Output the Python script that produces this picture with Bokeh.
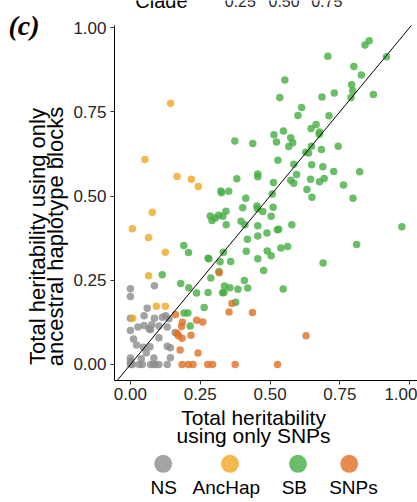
import math
from bokeh.plotting import figure
from bokeh.models import Range1d, FixedTicker, NumeralTickFormatter, ColumnDataSource
from bokeh.layouts import column, row
from bokeh.core.properties import value
from bokeh.embed import file_html
from bokeh.resources import INLINE

# ---------------- data ----------------
categories = ["NS", "AncHap", "SB", "SNPs"]
colors = ["#8c8c8c", "#f0a71f", "#46ae42", "#de6f22"]

ns_x = [0.0, 0.0, 0.086, 0.060, 0.049, 0.0, 0.086, 0.114, 0.126, 0.138, 0.027, 0.049, 0.076, 0.102,
        0.132, 0.0, 0.067, 0.072, 0.011, 0.022, 0.102, 0.046, 0.070, 0.057, 0.132, 0.143, 0.0, 0.0,
        0.039, 0.084, 0.143, 0.160, 0.0, 0.007, 0.031, 0.043, 0.072, 0.082, 0.090, 0.102, 0.132]
ns_y = [0.225, 0.202, 0.234, 0.167, 0.145, 0.137, 0.137, 0.140, 0.145, 0.136, 0.111, 0.116, 0.118, 0.114,
        0.111, 0.101, 0.106, 0.104, 0.076, 0.058, 0.079, 0.051, 0.053, 0.035, 0.054, 0.050, 0.019, 0.009,
        0.017, 0.019, 0.020, 0.095, 0.0, 0.0, 0.0, 0.0, 0.0, 0.0, 0.0, 0.0, 0.0]

anchap_x = [0.144, 0.052, 0.167, 0.218, 0.243, 0.078, 0.007, 0.065, 0.125, 0.065, 0.093, 0.125, 0.008]
anchap_y = [0.775, 0.608, 0.558, 0.550, 0.528, 0.452, 0.403, 0.377, 0.333, 0.263, 0.173, 0.173, 0.137]

sb_x = [0.855, 0.840, 0.707, 0.917, 0.800, 0.827, 0.553, 0.792, 0.796, 0.730, 0.870, 0.535, 0.686, 0.790,
        0.613, 0.600, 0.711, 0.665, 0.647, 0.548, 0.677, 0.676, 0.514, 0.574, 0.374, 0.438, 0.523, 0.581,
        0.567, 0.648, 0.744, 0.684, 0.628, 0.638, 0.528, 0.585, 0.649, 0.689, 0.728, 0.821, 0.595, 0.456,
        0.456, 0.381, 0.645, 0.574, 0.694, 0.677, 0.512, 0.585, 0.763, 0.632, 0.324, 0.326, 0.352, 0.508,
        0.413, 0.650, 0.797,
        0.511, 0.402, 0.453, 0.455, 0.474, 0.342, 0.286, 0.316, 0.331, 0.292, 0.304, 0.504, 0.396, 0.410,
        0.343, 0.456, 0.578, 0.526, 0.531, 0.489, 0.456, 0.419, 0.972, 0.563, 0.539, 0.490, 0.810, 0.191,
        0.208, 0.333, 0.415, 0.504, 0.278, 0.281, 0.456, 0.359, 0.321, 0.690, 0.477, 0.317, 0.114, 0.288,
        0.408, 0.180, 0.209, 0.337, 0.356, 0.420, 0.385, 0.547, 0.237, 0.278, 0.330, 0.335, 0.377, 0.264,
        0.192, 0.206, 0.214]
sb_y = [0.961, 0.948, 0.915, 0.913, 0.884, 0.859, 0.844, 0.830, 0.812, 0.806, 0.801, 0.792, 0.794, 0.792,
        0.763, 0.739, 0.738, 0.712, 0.700, 0.693, 0.690, 0.683, 0.682, 0.673, 0.663, 0.656, 0.660, 0.658,
        0.647, 0.648, 0.648, 0.638, 0.630, 0.628, 0.606, 0.594, 0.593, 0.587, 0.573, 0.572, 0.564, 0.565,
        0.557, 0.551, 0.550, 0.547, 0.552, 0.542, 0.540, 0.538, 0.533, 0.519, 0.515, 0.510, 0.514, 0.506,
        0.493, 0.496, 0.493,
        0.467, 0.465, 0.470, 0.462, 0.454, 0.455, 0.441, 0.443, 0.440, 0.427, 0.435, 0.440, 0.425, 0.415,
        0.415, 0.412, 0.415, 0.400, 0.401, 0.390, 0.381, 0.372, 0.409, 0.350, 0.346, 0.337, 0.356, 0.353,
        0.332, 0.333, 0.336, 0.323, 0.315, 0.314, 0.314, 0.306, 0.305, 0.301, 0.279, 0.276, 0.266, 0.257,
        0.249, 0.240, 0.228, 0.233, 0.228, 0.227, 0.223, 0.224, 0.212, 0.214, 0.213, 0.214, 0.185, 0.169,
        0.153, 0.153, 0.114]

snps_x = [0.318, 0.364, 0.353, 0.437, 0.161, 0.237, 0.259, 0.186, 0.183, 0.167, 0.172, 0.217, 0.185,
          0.629, 0.178, 0.242, 0.185, 0.207, 0.224, 0.277, 0.294, 0.375, 0.527]
snps_y = [0.272, 0.181, 0.156, 0.154, 0.148, 0.131, 0.126, 0.125, 0.113, 0.092, 0.085, 0.087, 0.078,
          0.085, 0.043, 0.034, 0.0, 0.0, 0.0, 0.0, 0.0, 0.0, 0.0]

axis_ticks = [0.0, 0.25, 0.5, 0.75, 1.0]
top_legend_title = "Clade"
top_legend_labels = ["0.25", "0.50", "0.75"]
x_title = ["Total heritability", "using only SNPs"]
y_title = ["Total heritability using only", "ancestral haplotype blocks"]
panel_tag = "(c)"

series = [(ns_x, ns_y), (anchap_x, anchap_y), (sb_x, sb_y), (snps_x, snps_y)]

# ---------------- layout geometry (page pixels) ----------------
W, H = 417, 502
LEFT_W = 70            # left strip (tag + y title)
FL, FR = 112, 417      # plot frame x extent
PT, FB = 25, 380       # panel top (y = Y1) and frame bottom
MAIN_H = 410           # main figure height (frame 0..380 + x axis)
X0, X1 = -0.057, 1.028
Y0, Y1 = -0.0475, 1.006
YTOP = Y0 + (FB - 0) / (FB - PT) * (Y1 - Y0)   # data value at page top

def dx(px):
    return X0 + (px - FL) / (FR - FL) * (X1 - X0)

def dy(py):
    return Y0 + (FB - py) / (FB - PT) * (Y1 - Y0)

FONT = "Liberation Sans"

def blank(width, height, xr, yr, **kw):
    f = figure(width=width, height=height, x_range=xr, y_range=yr, output_backend="svg",
               toolbar_location=None, x_axis_type=None, y_axis_type=None, **kw)
    f.outline_line_color = None
    f.background_fill_color = "white"
    f.border_fill_color = "white"
    return f

# ---------------- left strip ----------------
left = blank(LEFT_W, H, Range1d(0, LEFT_W), Range1d(FB, 0),
             min_border_left=0, min_border_right=0, min_border_top=0, min_border_bottom=H - FB)
left.text(x=[8], y=[25], text=[panel_tag], text_align="left", text_baseline="alphabetic",
          text_font=value("Liberation Serif"), text_font_style="bold italic", text_font_size="28px",
          text_color="black")
left.text(x=[37, 55], y=[236, 236], text=y_title, angle=math.pi / 2, text_align="center",
          text_baseline="alphabetic", text_font=value(FONT), text_font_size="22px", text_color="black")

# ---------------- main scatter ----------------
p = figure(width=W - LEFT_W, height=MAIN_H, x_range=Range1d(X0, X1), y_range=Range1d(Y0, YTOP),
           output_backend="svg", toolbar_location=None,
           min_border_left=FL - LEFT_W, min_border_right=W - FR, min_border_top=0,
           min_border_bottom=MAIN_H - FB)
p.outline_line_color = None
p.xgrid.grid_line_color = None
p.ygrid.grid_line_color = None
p.background_fill_color = "white"
p.border_fill_color = "white"

for ax in (p.xaxis[0], p.yaxis[0]):
    ax.ticker = FixedTicker(ticks=axis_ticks)
    ax.formatter = NumeralTickFormatter(format="0.00")
    ax.axis_line_color = "black"
    ax.axis_line_width = 1
    ax.major_tick_line_color = "#333333"
    ax.major_tick_out = 4
    ax.major_tick_in = 0
    ax.minor_tick_line_color = None
    ax.major_label_text_font = FONT
    ax.major_label_text_font_size = "17px"
    ax.major_label_text_color = "#262626"
p.yaxis.major_label_standoff = 4
p.xaxis.major_label_standoff = 3
p.yaxis.bounds = (Y0, Y1)

for (xs, ys), col in zip(series, colors):
    src = ColumnDataSource(dict(x=xs, y=ys))
    p.scatter("x", "y", source=src, size=7.5, fill_color=col, fill_alpha=0.8, line_color=None)

# identity line y = x, across the panel
p.line(x=[X0, Y1], y=[X0, Y1], line_color="black", line_width=1)

# cut-off legend belonging to the panel above
p.text(x=[dx(133)], y=[dy(0)], text=[top_legend_title], text_align="left", text_baseline="alphabetic",
       text_font=value(FONT), text_font_size="20px", text_color="black")
p.text(x=[dx(223), dx(267), dx(310)], y=[dy(0.5)] * 3, text=top_legend_labels, text_align="left",
       text_baseline="alphabetic", text_font=value(FONT), text_font_size="16px", text_color="#262626")

# ---------------- bottom strip: x title + legend ----------------
bottom = blank(W - LEFT_W, H - MAIN_H, Range1d(FL, FR), Range1d(H, MAIN_H),
               min_border_left=FL - LEFT_W, min_border_right=W - FR, min_border_top=0, min_border_bottom=0)
bottom.text(x=[252, 252], y=[417, 435], text=x_title, text_align="center", text_baseline="alphabetic",
            text_font=value(FONT), text_font_size="21px", text_color="black")

key_x = [161, 228.3, 296.7, 348.3]
label_x = [161.5, 224.5, 293, 352.5]
bottom.scatter(x=key_x, y=[463.3] * 4, size=18, fill_color=colors, fill_alpha=0.8, line_color=None)
bottom.text(x=label_x, y=[487] * 4, text=categories, text_align="center", text_baseline="alphabetic",
            text_font=value(FONT), text_font_size="19px", text_color="black")

layout = row(left, column(p, bottom, spacing=0), spacing=0)
open("out.html", "w").write(file_html(layout, INLINE))
